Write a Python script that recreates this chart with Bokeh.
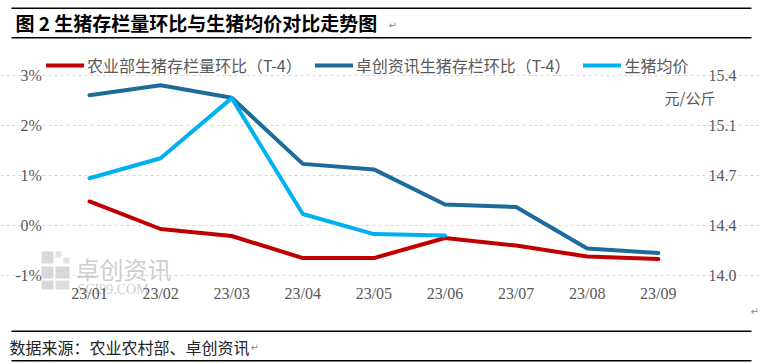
from bokeh.plotting import figure
from bokeh.models import (Range1d, LinearAxis, FixedTicker, Label, BoxAnnotation, Legend, LegendItem)
from bokeh.embed import file_html
from bokeh.resources import INLINE

months = ["23/01", "23/02", "23/03", "23/04", "23/05", "23/06", "23/07", "23/08", "23/09"]
moa_pct = [0.48, -0.07, -0.21, -0.65, -0.65, -0.25, -0.40, -0.62, -0.67]
sci_pct = [2.60, 2.80, 2.55, 1.23, 1.12, 0.42, 0.37, -0.46, -0.55]
price = [14.68, 14.82, 15.24, 14.43, 14.29, 14.28, float("nan"), float("nan"), float("nan")]
left_ticks = [-1, 0, 1, 2, 3]
left_labels = ["-1%", "0%", "1%", "2%", "3%"]
right_ticks = [14.0, 14.35, 14.7, 15.05, 15.4]
right_labels = ["14.0", "14.4", "14.7", "15.1", "15.4"]

title_text = "图 2  生猪存栏量环比与生猪均价对比走势图"
source_text = "数据来源：农业农村部、卓创资讯"
series_names = ["农业部生猪存栏量环比（T-4）", "卓创资讯生猪存栏环比（T-4）", "生猪均价"]
unit_text = "元/公斤"

RED = "#C00000"
DBLUE = "#1C6B9B"
LBLUE = "#00B0F0"
GREY = "#595959"
CJK = "Noto Sans CJK SC"
NUM = "Liberation Serif"

W, H = 760, 362
OX, OY = 1, 1          # observed page offset of the canvas
X0, DX = 90.0, 71.1    # page x of first month, spacing
Y3, DY = 75.7, 50.1    # page y of 3 %, px per 1 %


def fx(px):  # page px -> x data
    return (px - X0) / DX


def fy(py):  # page px -> left-axis data
    return 3 - (py - Y3) / DY


xs = list(range(len(months)))
p = figure(width=W, height=H, x_range=Range1d(fx(OX), fx(OX + W)), y_range=Range1d(fy(OY + H), fy(OY)),
           output_backend="svg", toolbar_location=None,
           min_border_left=0, min_border_right=0, min_border_top=0, min_border_bottom=0)
p.outline_line_color = None
p.extra_y_ranges = {"price": Range1d(14.0 + (fy(OY + H) + 1) * 0.35, 14.0 + (fy(OY) + 1) * 0.35)}

p.xgrid.grid_line_color = None
p.ygrid.grid_line_color = "#D9D9D9"
p.ygrid.grid_line_dash = "3 3"
p.ygrid.ticker = FixedTicker(ticks=left_ticks)
p.ygrid.bounds = (fx(50), fx(695))


def style(ax, standoff):
    ax.axis_line_color = None
    ax.major_tick_line_color = None
    ax.minor_tick_line_color = None
    ax.major_tick_out = 0
    ax.major_tick_in = 0
    ax.minor_tick_out = 0
    ax.minor_tick_in = 0
    ax.major_label_text_font = NUM
    ax.major_label_text_font_size = "16px"
    ax.major_label_text_color = GREY
    ax.major_label_standoff = standoff


ax = p.xaxis[0]
ax.ticker = FixedTicker(ticks=xs)
ax.major_label_overrides = {i: m for i, m in zip(xs, months)}
ax.fixed_location = -1
style(ax, 9)

ly = p.yaxis[0]
ly.ticker = FixedTicker(ticks=left_ticks)
ly.major_label_overrides = {t: l for t, l in zip(left_ticks, left_labels)}
ly.fixed_location = fx(54.4)
style(ly, 12)

ry = LinearAxis(y_range_name="price", ticker=FixedTicker(ticks=right_ticks), fixed_location=fx(695))
ry.major_label_overrides = {t: l for t, l in zip(right_ticks, right_labels)}
style(ry, 14)
p.add_layout(ry, "right")

# watermark
for (l, r, t, b, c) in [(42, 54, 252, 264, "#D8D8D8"), (56, 62, 252, 258, "#E2E2E2"), (64, 70, 258, 264, "#E2E2E2"),
                        (42, 54, 267, 279, "#D8D8D8"), (56, 70, 267, 279, "#D8D8D8"),
                        (42, 54, 281, 290, "#D8D8D8"), (56, 70, 281, 290, "#DDDDDD")]:
    p.add_layout(BoxAnnotation(left=fx(l), right=fx(r), top=fy(t), bottom=fy(b), fill_color=c, fill_alpha=1,
                               line_color=None, level="underlay"))
p.add_layout(Label(x=fx(76), y=fy(269), text="卓创资讯", text_font=CJK, text_font_size="24px",
                   text_color="#CFCFCF", text_baseline="middle", level="underlay"))
p.add_layout(Label(x=fx(78), y=fy(290), text="SCI99.COM", text_font=NUM, text_font_size="14px",
                   text_color="#CFCFCF", text_baseline="middle", level="underlay"))

r1 = p.line(xs, moa_pct, line_color=RED, line_width=4, line_join="round", line_cap="round")
r2 = p.line(xs, sci_pct, line_color=DBLUE, line_width=4, line_join="round", line_cap="round")
r3 = p.line(xs, price, line_color=LBLUE, line_width=4, line_join="round", line_cap="round",
            y_range_name="price")

legend = Legend(items=[LegendItem(label=series_names[0], renderers=[r1]),
                       LegendItem(label=series_names[1], renderers=[r2]),
                       LegendItem(label=series_names[2], renderers=[r3])],
                location=(47 - OX, OY + H - 78), orientation="horizontal", padding=0, margin=0,
                spacing=13, glyph_width=38, glyph_height=20, label_standoff=3,
                label_text_font=CJK, label_text_font_size="16px", label_text_color=GREY,
                label_height=20, background_fill_alpha=0, border_line_color=None)
p.add_layout(legend)

p.add_layout(Label(x=fx(716), y=fy(98), text=unit_text, text_font=CJK, text_font_size="15px",
                   text_color=GREY, text_align="right", text_baseline="middle"))


def rule(top, bottom):
    p.add_layout(BoxAnnotation(left=fx(12), right=fx(752), top=fy(top), bottom=fy(bottom), fill_color="black",
                               fill_alpha=1, line_color=None))


rule(8, 9.5)
rule(37.5, 39)
rule(331, 332.5)
rule(360.5, 362)

p.add_layout(Label(x=fx(16), y=fy(23), text=title_text, text_font=CJK, text_font_size="19px",
                   text_font_style="bold", text_color="black", text_baseline="middle"))
p.add_layout(Label(x=fx(389), y=fy(26), text="↵", text_font="DejaVu Sans", text_font_size="10px",
                   text_color="#888888", text_baseline="middle"))
p.add_layout(Label(x=fx(10), y=fy(347), text=source_text, text_font=CJK, text_font_size="16px",
                   text_color="#222222", text_baseline="middle"))
p.add_layout(Label(x=fx(251), y=fy(348), text="↵", text_font="DejaVu Sans", text_font_size="10px",
                   text_color="#888888", text_baseline="middle"))
p.add_layout(Label(x=fx(751), y=fy(312), text="↵", text_font="DejaVu Sans", text_font_size="10px",
                   text_color="#888888", text_baseline="middle"))

open("out.html", "w").write(file_html(p, INLINE))
